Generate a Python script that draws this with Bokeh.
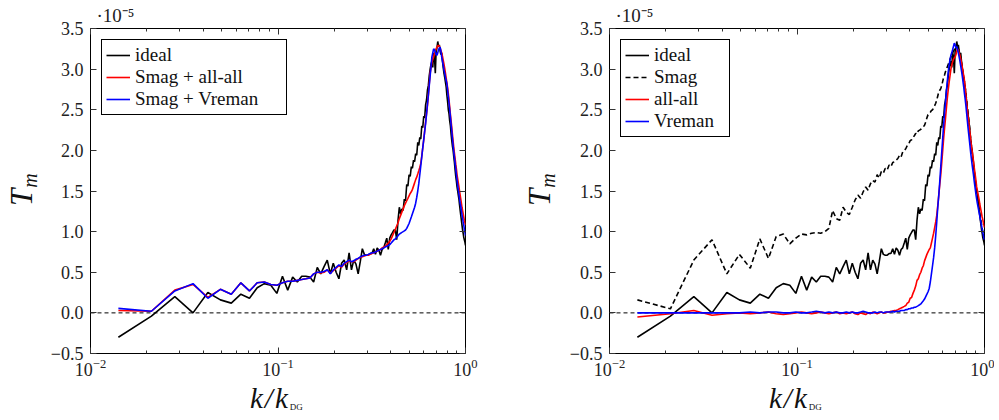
import numpy as np
from bokeh.plotting import figure
from bokeh.models import (Range1d, FixedTicker, LogAxis, LinearAxis, Span, Div,
                          Legend, LegendItem, CustomJSTickFormatter, LogTickFormatter)
from bokeh.layouts import row, column
from bokeh.embed import file_html
from bokeh.resources import INLINE

# wavenumber grid k/k_DG (modes 2..142 of 142)
N_DG = 142
mode = np.arange(2, 143)
k = mode / N_DG

# T_m in units of 1e-5
ideal = [
    -0.30, -0.04, 0.20, 0.00, 0.25, 0.16, 0.12, 0.23, 0.18, 0.31,
    0.36, 0.34, 0.24, 0.45, 0.28, 0.44, 0.38, 0.45, 0.45, 0.44,
    0.38, 0.56, 0.48, 0.57, 0.65, 0.48, 0.61, 0.50, 0.42, 0.61,
    0.65, 0.53, 0.74, 0.53, 0.65, 0.60, 0.48, 0.63, 0.79, 0.72,
    0.71, 0.71, 0.73, 0.73, 0.79, 0.72, 0.80, 0.77, 0.71, 0.78,
    0.80, 0.86, 0.92, 0.78, 0.92, 0.96, 0.99, 1.02, 1.02, 0.90,
    1.14, 1.30, 1.22, 1.28, 1.26, 1.40, 1.38, 1.58, 1.56, 1.70,
    1.68, 1.80, 1.78, 1.88, 1.86, 1.96, 1.94, 2.10, 2.06, 2.16,
    2.14, 2.30, 2.28, 2.42, 2.40, 2.56, 2.62, 2.74, 2.80, 2.92,
    3.00, 3.06, 3.10, 3.02, 3.20, 3.16, 2.95, 3.22, 3.26, 3.34,
    3.28, 3.30, 3.22, 3.18, 3.20, 3.10, 3.02, 2.95, 2.90, 2.84,
    2.78, 2.68, 2.60, 2.50, 2.45, 2.36, 2.30, 2.20, 2.12, 2.05,
    2.00, 1.92, 1.85, 1.76, 1.68, 1.62, 1.55, 1.50, 1.45, 1.40,
    1.33, 1.26, 1.20, 1.14, 1.08, 1.02, 0.98, 0.93, 0.90, 0.87,
    0.83,
]
smag_allall = [
    0.03, 0.02, 0.28, 0.35, 0.19, 0.29, 0.23, 0.37, 0.27, 0.37,
    0.38, 0.35, 0.34, 0.37, 0.39, 0.39, 0.40, 0.41, 0.42, 0.43,
    0.48, 0.50, 0.49, 0.50, 0.53, 0.49, 0.52, 0.55, 0.58, 0.56,
    0.60, 0.62, 0.64, 0.63, 0.63, 0.65, 0.67, 0.68, 0.69, 0.70,
    0.71, 0.71, 0.72, 0.73, 0.74, 0.75, 0.76, 0.77, 0.78, 0.80,
    0.81, 0.82, 0.84, 0.86, 0.88, 0.91, 0.95, 0.99, 1.03, 1.07,
    1.11, 1.16, 1.20, 1.24, 1.28, 1.32, 1.35, 1.38, 1.41, 1.44,
    1.47, 1.49, 1.52, 1.56, 1.60, 1.64, 1.67, 1.71, 1.75, 1.79,
    1.84, 1.93, 2.03, 2.13, 2.24, 2.35, 2.45, 2.55, 2.68, 2.82,
    2.95, 3.02, 3.08, 3.12, 3.15, 3.19, 3.22, 3.25, 3.27, 3.29,
    3.29, 3.28, 3.26, 3.23, 3.20, 3.16, 3.11, 3.06, 3.01, 2.95,
    2.89, 2.83, 2.77, 2.70, 2.62, 2.53, 2.44, 2.36, 2.28, 2.19,
    2.11, 2.03, 1.96, 1.90, 1.83, 1.77, 1.70, 1.65, 1.60, 1.55,
    1.50, 1.45, 1.40, 1.35, 1.30, 1.26, 1.22, 1.18, 1.14, 1.11,
    1.08,
]
smag_vreman = [
    0.055, 0.02, 0.27, 0.36, 0.18, 0.29, 0.23, 0.37, 0.27, 0.37,
    0.38, 0.35, 0.34, 0.37, 0.39, 0.39, 0.40, 0.41, 0.42, 0.43,
    0.48, 0.50, 0.50, 0.51, 0.53, 0.48, 0.53, 0.56, 0.59, 0.57,
    0.61, 0.63, 0.65, 0.63, 0.64, 0.66, 0.67, 0.69, 0.70, 0.71,
    0.71, 0.72, 0.73, 0.74, 0.74, 0.75, 0.76, 0.77, 0.78, 0.79,
    0.80, 0.81, 0.82, 0.83, 0.84, 0.86, 0.88, 0.90, 0.91, 0.93,
    0.95, 0.97, 0.98, 0.99, 1.00, 1.01, 1.02, 1.04, 1.07, 1.10,
    1.14, 1.18, 1.22, 1.26, 1.30, 1.35, 1.42, 1.50, 1.59, 1.70,
    1.81, 1.92, 2.03, 2.13, 2.23, 2.33, 2.45, 2.57, 2.68, 2.80,
    2.92, 3.03, 3.15, 3.20, 3.25, 3.24, 3.21, 3.18, 3.17, 3.20,
    3.24, 3.26, 3.27, 3.22, 3.15, 3.10, 3.05, 2.99, 2.95, 2.90,
    2.86, 2.82, 2.74, 2.66, 2.58, 2.50, 2.41, 2.32, 2.23, 2.14,
    2.06, 1.98, 1.91, 1.84, 1.77, 1.70, 1.63, 1.57, 1.51, 1.46,
    1.40, 1.35, 1.31, 1.26, 1.21, 1.17, 1.12, 1.08, 1.03, 0.99,
    0.95,
]
smag = [
    0.16, 0.05, 0.65, 0.90, 0.48, 0.72, 0.55, 0.91, 0.67, 0.94,
    0.97, 0.85, 0.92, 0.97, 0.96, 0.98, 0.99, 0.98, 1.00, 1.04,
    1.26, 1.16, 1.14, 1.30, 1.24, 1.21, 1.30, 1.39, 1.45, 1.41,
    1.49, 1.55, 1.51, 1.59, 1.63, 1.61, 1.70, 1.66, 1.74, 1.72,
    1.78, 1.76, 1.82, 1.80, 1.85, 1.86, 1.88, 1.90, 1.94, 1.92,
    1.98, 2.00, 2.02, 2.06, 2.08, 2.12, 2.13, 2.16, 2.18, 2.21,
    2.20, 2.24, 2.25, 2.26, 2.28, 2.29, 2.31, 2.35, 2.40, 2.44,
    2.45, 2.47, 2.49, 2.50, 2.52, 2.55, 2.58, 2.62, 2.67, 2.72,
    2.74, 2.76, 2.80, 2.85, 2.90, 2.93, 2.97, 3.00, 3.03, 3.06,
    3.08, 3.12, 3.15, 3.18, 3.20, 3.22, 3.24, 3.25, 3.27, 3.28,
    3.27, 3.25, 3.22, 3.18, 3.13, 3.08, 3.02, 2.96, 2.90, 2.84,
    2.77, 2.70, 2.62, 2.54, 2.46, 2.38, 2.30, 2.21, 2.13, 2.05,
    1.97, 1.90, 1.83, 1.76, 1.69, 1.62, 1.56, 1.50, 1.44, 1.38,
    1.33, 1.28, 1.23, 1.18, 1.13, 1.08, 1.04, 1.00, 0.96, 0.92,
    0.88,
]
allall = [
    -0.05, -0.01, 0.03, -0.03, -0.01, 0.00, -0.01, 0.00, 0.01, -0.01,
    -0.02, -0.01, 0.00, 0.01, 0.00, -0.01, 0.00, 0.01, 0.00, -0.01,
    0.00, 0.01, -0.01, 0.00, -0.01, 0.00, 0.01, -0.01, -0.02, 0.00,
    -0.01, -0.02, 0.00, -0.01, 0.01, 0.00, -0.01, 0.00, 0.01, 0.00,
    0.00, 0.01, 0.01, 0.02, 0.02, 0.03, 0.03, 0.04, 0.05, 0.06,
    0.07, 0.08, 0.09, 0.12, 0.13, 0.18, 0.19, 0.24, 0.28, 0.33,
    0.40, 0.42, 0.47, 0.50, 0.55, 0.58, 0.64, 0.68, 0.72, 0.75,
    0.78, 0.80, 0.86, 0.92, 0.98, 1.05, 1.12, 1.20, 1.32, 1.45,
    1.58, 1.70, 1.85, 2.00, 2.15, 2.28, 2.40, 2.53, 2.65, 2.75,
    2.84, 2.92, 3.00, 3.05, 3.09, 3.12, 3.14, 3.15, 3.18, 3.22,
    3.25, 3.23, 3.20, 3.17, 3.13, 3.08, 3.03, 2.97, 2.92, 2.86,
    2.78, 2.68, 2.59, 2.50, 2.42, 2.35, 2.27, 2.20, 2.12, 2.05,
    1.99, 1.93, 1.87, 1.80, 1.74, 1.68, 1.62, 1.55, 1.51, 1.47,
    1.43, 1.39, 1.34, 1.30, 1.26, 1.22, 1.18, 1.15, 1.11, 1.08,
    1.05,
]
vreman = [
    0.00, 0.00, 0.00, 0.00, 0.00, 0.00, 0.01, 0.00, 0.01, 0.01,
    0.00, 0.00, 0.01, 0.00, 0.00, 0.01, 0.02, 0.01, 0.00, 0.01,
    0.00, 0.01, 0.00, 0.00, 0.01, 0.00, 0.01, 0.00, 0.00, 0.01,
    0.02, 0.01, 0.00, 0.00, 0.00, 0.01, 0.00, 0.01, 0.01, 0.00,
    0.01, 0.01, 0.01, 0.01, 0.02, 0.01, 0.02, 0.02, 0.02, 0.03,
    0.03, 0.03, 0.04, 0.04, 0.05, 0.05, 0.06, 0.06, 0.07, 0.07,
    0.08, 0.09, 0.10, 0.11, 0.13, 0.15, 0.17, 0.20, 0.23, 0.26,
    0.30, 0.38, 0.48, 0.58, 0.68, 0.80, 0.95, 1.12, 1.30, 1.45,
    1.62, 1.80, 1.98, 2.15, 2.32, 2.47, 2.60, 2.74, 2.86, 2.97,
    3.05, 3.12, 3.17, 3.20, 3.24, 3.28, 3.32, 3.30, 3.26, 3.28,
    3.24, 3.20, 3.15, 3.10, 3.04, 2.98, 2.92, 2.85, 2.78, 2.70,
    2.63, 2.55, 2.46, 2.37, 2.28, 2.20, 2.12, 2.04, 1.96, 1.89,
    1.82, 1.76, 1.70, 1.63, 1.57, 1.51, 1.45, 1.40, 1.35, 1.31,
    1.27, 1.23, 1.19, 1.15, 1.11, 1.07, 1.03, 0.99, 0.96, 0.92,
    0.90,
]

y_ticks = [-0.5, 0.0, 0.5, 1.0, 1.5, 2.0, 2.5, 3.0, 3.5]
x_major = [0.01, 0.1, 1.0]
x_minor = [0.02, 0.03, 0.04, 0.05, 0.06, 0.07, 0.08, 0.09,
           0.2, 0.3, 0.4, 0.5, 0.6, 0.7, 0.8, 0.9]
legend_left = ["ideal", "Smag + all-all", "Smag + Vreman"]
legend_right = ["ideal", "Smag", "all-all", "Vreman"]

FONT = "Liberation Serif"
FW, FH = 375, 325
TOP, BOTTOM = 28, 40
PH = TOP + FH + BOTTOM          # figure height
XDIV_H = 25


def make_fig(border_left, border_right):
    p = figure(width=border_left + FW + border_right, height=PH,
               x_axis_type="log", x_range=Range1d(0.01, 1.0), y_range=Range1d(-0.5, 3.5),
               output_backend="svg", toolbar_location=None,
               min_border_left=border_left, min_border_right=border_right,
               min_border_top=TOP, min_border_bottom=BOTTOM, margin=0)
    p.xgrid.visible = False
    p.ygrid.visible = False
    p.outline_line_color = "black"
    p.outline_line_width = 1
    p.background_fill_color = "white"
    p.border_fill_color = "white"

    # exponent note above the frame
    p.title.text = "\u00b710\u207b\u2075"
    p.title.align = "left"
    p.title.offset = 6
    p.title.standoff = 5
    p.title.text_font = FONT
    p.title.text_font_size = "19px"
    p.title.text_font_style = "normal"
    p.title.text_color = "#222222"

    tick_color = "#333333"
    xa = p.xaxis[0]
    xa.ticker = FixedTicker(ticks=x_major, minor_ticks=x_minor)
    xa.formatter = LogTickFormatter()
    xa.axis_line_color = None
    xa.major_tick_in = 6
    xa.major_tick_out = 0
    xa.minor_tick_in = 3
    xa.minor_tick_out = 0
    xa.major_tick_line_color = tick_color
    xa.minor_tick_line_color = tick_color
    xa.major_label_text_font = FONT
    xa.major_label_text_font_size = "18px"
    xa.major_label_text_color = "#222222"
    xa.major_label_standoff = 5

    ya = p.yaxis[0]
    ya.ticker = FixedTicker(ticks=y_ticks, minor_ticks=[])
    ya.formatter = CustomJSTickFormatter(
        code="return (tick < 0 ? '\u2212' : '') + Math.abs(tick).toFixed(1);")
    ya.axis_line_color = None
    ya.major_tick_in = 6
    ya.major_tick_out = 0
    ya.minor_tick_in = 0
    ya.minor_tick_out = 0
    ya.major_tick_line_color = tick_color
    ya.major_label_text_font = FONT
    ya.major_label_text_font_size = "18px"
    ya.major_label_text_color = "#222222"
    ya.major_label_standoff = 7

    top = LogAxis(ticker=FixedTicker(ticks=x_major, minor_ticks=x_minor), axis_line_color=None,
                  major_tick_in=6, major_tick_out=0, minor_tick_in=3, minor_tick_out=0,
                  major_tick_line_color=tick_color, minor_tick_line_color=tick_color,
                  major_label_text_font_size="0px", major_label_text_alpha=0,
                  major_label_standoff=0)
    p.add_layout(top, "above")
    right = LinearAxis(ticker=FixedTicker(ticks=y_ticks, minor_ticks=[]), axis_line_color=None,
                       major_tick_in=6, major_tick_out=0, minor_tick_in=0, minor_tick_out=0,
                       major_tick_line_color=tick_color,
                       major_label_text_font_size="0px", major_label_text_alpha=0,
                       major_label_standoff=0)
    p.add_layout(right, "right")

    zero = Span(location=0, dimension="width", line_color="black", line_dash="4 3",
                line_width=1, level="underlay")
    p.add_layout(zero)
    return p


def style_legend(p, items, label_width):
    lg = Legend(items=items, location="top_left", margin=11, padding=4, spacing=0,
                glyph_width=24, glyph_height=20, label_height=21, label_width=label_width,
                label_standoff=5, label_text_font=FONT, label_text_font_size="19px",
                label_text_color="#111111",
                border_line_color="black", border_line_width=1, border_line_alpha=1,
                background_fill_color="white", background_fill_alpha=1)
    p.add_layout(lg)


def ylabel_div(left, width):
    html = ('<div style="position:absolute; left:%dpx; top:206px; transform:rotate(-90deg); '
            'transform-origin:0 0; white-space:nowrap; line-height:1; color:#111; '
            'font-family:\'Liberation Serif\'; font-size:31px; font-style:italic;">'
            'T<span style="font-size:20px; position:relative; top:5px; margin-left:1px;">m</span></div>'
            % left)
    return Div(text=html, width=width, height=PH, margin=0,
               styles={"position": "relative", "overflow": "visible"})


def xlabel_div(left, width):
    html = ('<div style="position:absolute; left:%dpx; top:-9px; white-space:nowrap; line-height:1; '
            'color:#111; font-family:\'Liberation Serif\'; font-size:29px; font-style:italic; '
            'letter-spacing:2px;">k/k<span style="font-size:9px; font-style:normal; letter-spacing:0; '
            'position:relative; top:2px;">DG</span></div>' % left)
    return Div(text=html, width=width, height=XDIV_H, margin=0,
               styles={"position": "relative", "overflow": "visible"})


LW = 1.6
YW1, YW2 = 46, 62

# left panel: frame at x=90
p1 = make_fig(90 - YW1, 35)
r_id = p1.line(k[:len(ideal)], ideal, line_color="black", line_width=LW)
r_sa = p1.line(k[:len(smag_allall)], smag_allall, line_color="#ff0000", line_width=LW)
r_sv = p1.line(k[:len(smag_vreman)], smag_vreman, line_color="#0000ff", line_width=LW)
style_legend(p1, [LegendItem(label=legend_left[0], renderers=[r_id]),
                  LegendItem(label=legend_left[1], renderers=[r_sa]),
                  LegendItem(label=legend_left[2], renderers=[r_sv])], 147)

# right panel: frame at x=609
p2 = make_fig(609 - 500 - YW2, 10)
q_id = p2.line(k[:len(ideal)], ideal, line_color="black", line_width=LW)
q_sm = p2.line(k[:len(smag)], smag, line_color="black", line_width=LW, line_dash="5 3")
q_aa = p2.line(k[:len(allall)], allall, line_color="#ff0000", line_width=LW)
q_vr = p2.line(k[:len(vreman)], vreman, line_color="#0000ff", line_width=LW)
style_legend(p2, [LegendItem(label=legend_right[0], renderers=[q_id]),
                  LegendItem(label=legend_right[1], renderers=[q_sm]),
                  LegendItem(label=legend_right[2], renderers=[q_aa]),
                  LegendItem(label=legend_right[3], renderers=[q_vr])], 71)

w1 = YW1 + p1.width
w2 = YW2 + p2.width
panel1 = column(row(ylabel_div(6, YW1), p1, spacing=0, margin=0),
                xlabel_div(250, w1), spacing=0, margin=0)
panel2 = column(row(ylabel_div(24, YW2), p2, spacing=0, margin=0),
                xlabel_div(269, w2), spacing=0, margin=0)

layout = row(panel1, panel2, spacing=0, margin=0)
open("out.html", "w").write(file_html(layout, INLINE))
